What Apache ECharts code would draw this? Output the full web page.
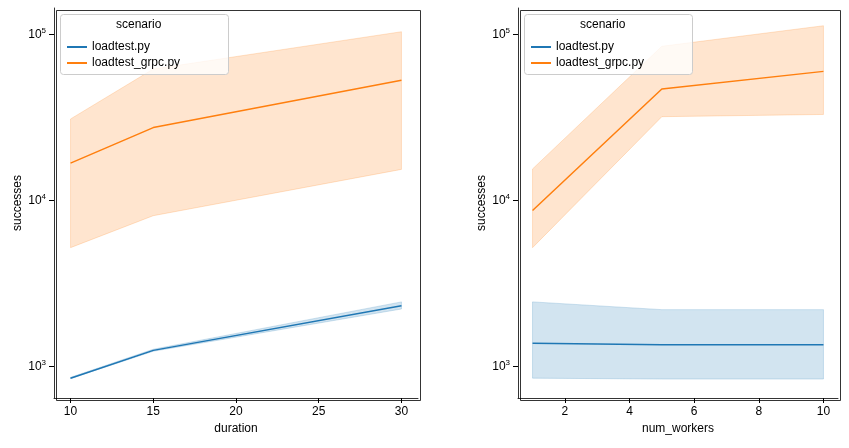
<!DOCTYPE html>
<html>
<head>
<meta charset="utf-8">
<script src="https://cdn.jsdelivr.net/npm/echarts@6/dist/echarts.min.js"></script>
</head>
<body style="margin:0;background:#fff">
<div id="chart" style="width:849px;height:448px;"></div>
<script>
  // left panel: successes by duration
  var durations = [10, 15, 30]
  var durRestMean = [850, 1250, 2320]
  var durRestLow = [845, 1235, 2220]
  var durRestHigh = [860, 1270, 2450]
  var durGrpcMean = [16800, 27500, 53000]
  var durGrpcLow = [5200, 8100, 15400]
  var durGrpcHigh = [31000, 62000, 104000]

  // right panel: successes by num_workers
  var workers = [1, 5, 10]
  var wRestMean = [1380, 1350, 1350]
  var wRestLow = [850, 840, 840]
  var wRestHigh = [2450, 2200, 2200]
  var wGrpcMean = [8700, 47000, 60000]
  var wGrpcLow = [5200, 32000, 33000]
  var wGrpcHigh = [15500, 85000, 113000]

  var yTicks = [3, 4, 5]
  var BLUE = '#1f77b4', ORANGE = '#ff7f0e'

  function lg(v) { return Math.log10(v) }
  function pts(xs, ys) { return xs.map(function(x, i) { return [x, lg(ys[i])] }) }

  // confidence band as a polygon through the axis scales
  function band(idx, xs, lo, hi, color) {
    var data = xs.map(function(x, i) { return [x, lg(lo[i]), lg(hi[i])] })
    return {
      type: 'custom', xAxisIndex: idx, yAxisIndex: idx, data: data, silent: true, z: 1,
      renderItem: function(params, api) {
        if (params.dataIndex !== 0) return
        var top = data.map(function(d) { return api.coord([d[0], d[2]]) })
        var bot = data.map(function(d) { return api.coord([d[0], d[1]]) }).reverse()
        return { type: 'polygon', shape: { points: top.concat(bot) },
          style: { fill: color, opacity: 0.2, stroke: color, lineWidth: 1 } }
      }
    }
  }
  function line(idx, name, xs, ys, color) {
    return { type: 'line', name: name, xAxisIndex: idx, yAxisIndex: idx, data: pts(xs, ys), z: 3,
      symbol: 'none', lineStyle: { color: color, width: 1.5 }, itemStyle: { color: color } }
  }

  var axisCommon = {
    axisLine: { show: true, onZero: false, lineStyle: { color: '#000', width: 0.8 } },
    axisTick: { lineStyle: { color: '#000' } },
    splitLine: { show: false },
    axisLabel: { color: '#000', fontSize: 12 },
    nameTextStyle: { color: '#000', fontSize: 12 }
  }
  function yAxis(idx) {
    return Object.assign({}, axisCommon, {
      type: 'value', gridIndex: idx, min: 2.81, max: 5.16, name: 'successes',
      nameLocation: 'middle', nameGap: 30, nameRotate: 90,
      axisTick: { customValues: yTicks, lineStyle: { color: '#000' } },
      axisLabel: { color: '#000', customValues: yTicks,
        formatter: function(v) { return '{b|10}{s|' + v + '}' },
        rich: { b: { fontSize: 12, color: '#000' }, s: { fontSize: 8, color: '#000', verticalAlign: 'top', padding: [0, 0, 8, 0] } } }
    })
  }
  function frame(x, w) {
    return { type: 'rect', left: x, top: 8, shape: { width: w, height: 390 },
      style: { fill: 'none', stroke: '#000', lineWidth: 0.8 }, silent: true }
  }
  function legendBox(x) {
    return [
      { type: 'rect', left: x, top: 14, shape: { width: 168, height: 60, r: 3 },
        style: { fill: 'rgba(255,255,255,0.8)', stroke: '#ccc', lineWidth: 1 }, z: 10 },
      { type: 'text', left: x + 56, top: 19, style: { text: 'scenario', fontSize: 12, fill: '#000' }, z: 11 }
    ]
  }

  var chart = echarts.init(document.getElementById('chart'))
  chart.setOption({
    animation: false,
    grid: [
      { left: 54, right: 431, top: 8, bottom: 50 },
      { left: 518, right: 11, top: 8, bottom: 50 }
    ],
    xAxis: [
      Object.assign({}, axisCommon, { type: 'value', gridIndex: 0, min: 9, max: 31,
        name: 'duration', nameLocation: 'middle', nameGap: 24,
        axisLabel: { color: '#000', customValues: [10, 15, 20, 25, 30] },
        axisTick: { customValues: [10, 15, 20, 25, 30], lineStyle: { color: '#000' } } }),
      Object.assign({}, axisCommon, { type: 'value', gridIndex: 1, min: 0.55, max: 10.45,
        name: 'num_workers', nameLocation: 'middle', nameGap: 24,
        axisLabel: { color: '#000', customValues: [2, 4, 6, 8, 10] },
        axisTick: { customValues: [2, 4, 6, 8, 10], lineStyle: { color: '#000' } } })
    ],
    yAxis: [yAxis(0), yAxis(1)],
    legend: [
      { data: ['loadtest.py', 'loadtest_grpc.py'], orient: 'vertical', left: 62, top: 36,
        itemGap: 4, itemWidth: 20, itemHeight: 2, icon: 'rect', textStyle: { fontSize: 12, color: '#000' }, z: 12 },
      { data: ['loadtest.py', 'loadtest_grpc.py'], orient: 'vertical', left: 526, top: 36,
        itemGap: 4, itemWidth: 20, itemHeight: 2, icon: 'rect', textStyle: { fontSize: 12, color: '#000' }, z: 12 }
    ],
    graphic: [frame(54, 364), frame(518, 320)].concat(legendBox(60), legendBox(524)),
    series: [
      band(0, durations, durRestLow, durRestHigh, BLUE),
      band(0, durations, durGrpcLow, durGrpcHigh, ORANGE),
      line(0, 'loadtest.py', durations, durRestMean, BLUE),
      line(0, 'loadtest_grpc.py', durations, durGrpcMean, ORANGE),
      band(1, workers, wRestLow, wRestHigh, BLUE),
      band(1, workers, wGrpcLow, wGrpcHigh, ORANGE),
      line(1, 'loadtest.py', workers, wRestMean, BLUE),
      line(1, 'loadtest_grpc.py', workers, wGrpcMean, ORANGE)
    ]
  })
</script>
</body>
</html>
